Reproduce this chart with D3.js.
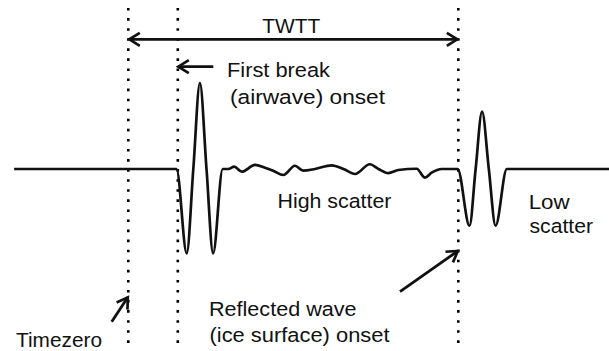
<!DOCTYPE html>
<html>
<head>
<meta charset="utf-8">
<script src="https://cdn.jsdelivr.net/npm/d3@7"></script>
<style>
  html, body { margin: 0; padding: 0; background: #fff; }
  svg { display: block; }
  text { font-family: "Liberation Sans", Arial, sans-serif; font-size: 20.5px; fill: #111; }
</style>
</head>
<body>
<svg id="chart" width="609" height="351"></svg>
<script>
// Event times (TWTT units: timezero = 0, reflection onset = 100)
const markerTimes = [0, 15, 100];
const twttSpan = [0, 100];

// Radar trace: time and normalised amplitude
const traceTime = [-34.6, 14.6, 17.7, 19.7, 21.7, 23.7, 25.7, 28.6,
  30.3, 32.1, 34.4, 38.4, 41.4, 43.9, 47.0, 50.5, 53.0, 56.6, 61.6, 65.2,
  68.7, 73.2, 75.8, 78.8, 81.8, 87.4, 89.9, 91.9, 95.0, 99.8,
  103.4, 105.25, 107.2, 109.25, 111.3, 114.7, 146];
const traceAmp = [0, 0, -0.98, 0, 1.0, 0, -0.98, 0,
  0, 0.027, -0.031, 0.047, 0.015, -0.02, -0.07, 0.038, -0.02, 0, 0.043, 0,
  -0.058, 0.055, 0, -0.047, -0.012, 0.003, -0.101, -0.043, 0, 0,
  -0.66, 0, 0.666, 0, -0.66, 0, 0];

// Annotation texts
const twttLabel = "TWTT";
const firstBreakLines = ["First break", "(airwave) onset"];
const reflectedLines = ["Reflected wave", "(ice surface) onset"];
const highScatterLabel = "High scatter";
const lowScatterLines = ["Low", "scatter"];
const timezeroLabel = "Timezero";

const svg = d3.select("#chart");
const x = d3.scaleLinear().domain([0, 100]).range([128.3, 458.3]);
const y = d3.scaleLinear().domain([-1, 1]).range([255, 83]);

// Dotted event markers
svg.selectAll("line.marker")
  .data(markerTimes)
  .join("line")
  .attr("class", "marker")
  .attr("x1", d => x(d)).attr("x2", d => x(d))
  .attr("y1", 8).attr("y2", 345)
  .attr("stroke", "#000")
  .attr("stroke-width", 2.6)
  .attr("stroke-dasharray", "2.6 7.47");

// Trace
const traceData = traceTime.map((t, i) => [t, traceAmp[i]]);
svg.append("path")
  .datum(traceData)
  .attr("fill", "none")
  .attr("stroke", "#111")
  .attr("stroke-width", 2.7)
  .attr("stroke-linejoin", "round")
  .attr("d", d3.line().x(d => x(d[0])).y(d => y(d[1])).curve(d3.curveMonotoneX));

// Arrow helpers
function arrowHead(g, tx, ty, fx, fy) {
  const dx = fx - tx, dy = fy - ty;
  const len = Math.hypot(dx, dy);
  const ux = dx / len, uy = dy / len;
  const nx = -uy, ny = ux;
  const L = 10.5, Wd = 6.5;
  const p = d3.path();
  p.moveTo(tx + ux * L + nx * Wd, ty + uy * L + ny * Wd);
  p.lineTo(tx, ty);
  p.lineTo(tx + ux * L - nx * Wd, ty + uy * L - ny * Wd);
  g.append("path").attr("d", p.toString())
    .attr("fill", "none").attr("stroke", "#111").attr("stroke-width", 2.7)
    .attr("stroke-linejoin", "miter");
}
function arrow(x1, y1, x2, y2, both) {
  const g = svg.append("g");
  g.append("line")
    .attr("x1", x1).attr("y1", y1).attr("x2", x2).attr("y2", y2)
    .attr("stroke", "#111").attr("stroke-width", 2.8);
  arrowHead(g, x2, y2, x1, y1);
  if (both) arrowHead(g, x1, y1, x2, y2);
}

// Text with a fixed run length
function label(parent, str, px, py, len, anchor) {
  return parent.append("text")
    .attr("x", px).attr("y", py)
    .attr("text-anchor", anchor || "start")
    .attr("textLength", len)
    .attr("lengthAdjust", "spacingAndGlyphs")
    .text(str);
}

// TWTT span
const spanY = 39.3;
arrow(x(twttSpan[0]) + 1, spanY, x(twttSpan[1]) - 1, spanY, true);
label(svg, twttLabel, 291.3, 33.3, 58, "middle");

// First break pointer and label
arrow(x(markerTimes[1]) + 35.5, 66.7, x(markerTimes[1]) + 0.5, 66.7, false);
label(svg, firstBreakLines[0], 227, 77, 103);
label(svg, firstBreakLines[1], 230, 103.5, 155);

// Scatter labels
label(svg, highScatterLabel, 277.5, 208.3, 114);
label(svg, lowScatterLines[0], 528.7, 209, 41);
label(svg, lowScatterLines[1], 529.5, 233.3, 63.5);

// Reflected wave pointer and label
arrow(400, 291.7, x(markerTimes[2]) - 0.5, 251, false);
label(svg, reflectedLines[0], 209, 316, 147.5);
label(svg, reflectedLines[1], 209.5, 341.5, 180);

// Timezero pointer and label
arrow(111.7, 321.7, x(markerTimes[0]) - 0.5, 297.3, false);
label(svg, timezeroLabel, 16, 347.3, 86);
</script>
</body>
</html>
